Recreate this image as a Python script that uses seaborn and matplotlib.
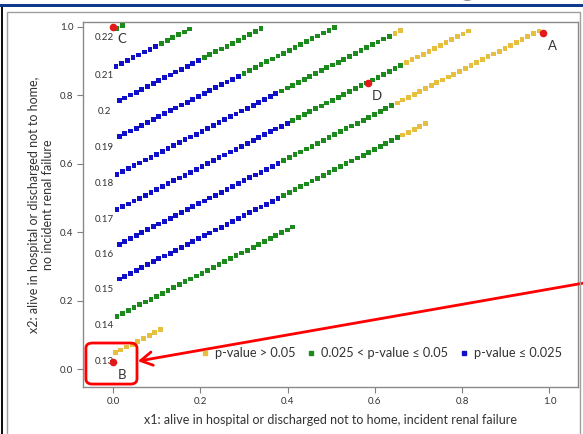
import numpy as np
import pandas as pd
import matplotlib
matplotlib.use("Agg")
import matplotlib.pyplot as plt
import seaborn as sns
from matplotlib.lines import Line2D
from matplotlib.patches import FancyBboxPatch, Rectangle

sns.set_theme(style="ticks")
plt.rcParams["font.family"] = ["Lato", "DejaVu Sans"]

# Contours of constant estimate: x2 = intercept + slope * x1
levels = ["0.13", "0.14", "0.15", "0.16", "0.17", "0.18", "0.19", "0.2", "0.21", "0.22"]
intercepts = [0.044, 0.148, 0.254, 0.356, 0.460, 0.563, 0.670, 0.775, 0.880, 0.990]
slope = 0.648
x1_first = [0.005, 0.009, 0.014, 0.014, 0.009, 0.009, 0.014, 0.014, 0.007, 0.009]
x1_last = [0.108, 0.417, 0.715, 0.975, 0.820, 0.665, 0.505, 0.337, 0.176, 0.023]
x1_step = 0.013
# p-value band limits along each contour (x1 where the band ends)
blue_until = [-1, -1, 0.378, 0.383, 0.405, 0.375, 0.296, 0.206, 0.110, -1]
green_until = [-1, 2, 0.660, 0.650, 0.665, 0.640, 2, 2, 2, 2]

# Highlighted scenarios
case_names = ["A", "B", "C", "D"]
case_x1 = [0.985, 0.0, 0.0, 0.584]
case_x2 = [0.982, 0.020, 1.0, 0.836]

band_labels = ["p-value > 0.05", "0.025 < p-value \u2264 0.05", "p-value \u2264 0.025"]
band_colors = ["#e7bf3f", "#1d8a1d", "#1010c8"]

rows = []
for lev, b0, xa, xb, bu, gu in zip(levels, intercepts, x1_first, x1_last, blue_until, green_until):
    xs = np.arange(xa, xb + x1_step * 0.5, x1_step)
    for x in xs:
        if x <= bu + 1e-9:
            band = band_labels[2]
        elif x <= gu + 1e-9:
            band = band_labels[1]
        else:
            band = band_labels[0]
        rows.append({"x1": x, "x2": b0 + slope * x, "band": band, "level": lev})
df = pd.DataFrame(rows)

W, H = 583, 434
fig = plt.figure(figsize=(W / 100, H / 100), dpi=100)
ax = fig.add_axes([83 / W, 1 - 387 / H, (578 - 83) / W, (387 - 22) / H])

sns.scatterplot(data=df, x="x1", y="x2", hue="band",
                palette=dict(zip(band_labels, band_colors)),
                marker="s", s=12, linewidth=0, legend=False, ax=ax, zorder=3)

ax.scatter(case_x1, case_x2, s=30, color="#e31818", zorder=4, linewidth=0)
for n, cx, cy in zip(case_names, case_x1, case_x2):
    ax.annotate(n, (cx, cy), xytext=(6.5, -9), textcoords="offset points",
                ha="center", va="center", fontsize=9.5, color="#333333")

for lev, b0 in zip(levels, intercepts):
    ax.text(-0.02, b0 - 0.022, lev, ha="center", va="center", fontsize=7, color="#333333")

ax.set_xlim(-0.0687, 1.0653)
ax.set_ylim(-0.0526, 1.0146)
ticks = [0.0, 0.2, 0.4, 0.6, 0.8, 1.0]
ax.set_xticks(ticks)
ax.set_yticks(ticks)
ax.set_xticklabels([f"{t:.1f}" for t in ticks])
ax.set_yticklabels([f"{t:.1f}" for t in ticks])
ax.tick_params(labelsize=7, colors="#333333", length=4, width=0.8, color="#808080", pad=3)
for sp in ax.spines.values():
    sp.set_color("#8a8a8a")
    sp.set_linewidth(1.0)
    sp.set_visible(True)

ax.set_xlabel("x1: alive in hospital or discharged not to home, incident renal failure",
              fontsize=9, color="#333333", labelpad=6)
ax.set_ylabel("x2: alive in hospital or discharged not to home,\nno incident renal failure",
              fontsize=9, color="#333333", labelpad=4)

handles = [Line2D([], [], marker="s", ls="", color=c, markersize=3.2) for c in band_colors]
ax.legend(handles, band_labels, ncol=3, loc="center", bbox_to_anchor=(0.603, 0.093),
          frameon=False, fontsize=9.2, handlelength=0.6, handletextpad=0.5,
          columnspacing=0.9, labelcolor="#333333")

# Red call-out box around B and arrow pointing at it
box = FancyBboxPatch((-0.062, -0.044), 0.117, 0.120, boxstyle="round,pad=0,rounding_size=0.015",
                     fill=False, edgecolor="#ff0000", linewidth=2.0, zorder=5, clip_on=False)
ax.add_patch(box)
ax.annotate("", xy=(0.057, 0.023), xytext=(1.077, 0.251), xycoords="data", textcoords="data",
            arrowprops=dict(arrowstyle="->,head_length=0.7,head_width=0.4", color="#ff0000",
                            lw=2.0, shrinkA=0, shrinkB=0), annotation_clip=False, zorder=5)

# Slide frame around the chart
fig.add_artist(Rectangle((0, 1 - 7 / H), 1, 3 / H, transform=fig.transFigure,
                         color="#123a8c", linewidth=0))
fig.add_artist(Rectangle((0.5 / W, 0), 2.5 / W, 1 - 7 / H, transform=fig.transFigure,
                         color="#111111", linewidth=0))
fig.add_artist(Rectangle((7 / W, -0.05), (580 - 7) / W, 1.05 - 12 / H, transform=fig.transFigure,
                         fill=False, edgecolor="#a0a0a0", linewidth=1.0))
# Tail of the slide heading above the frame
fig.text(468 / W, 1 + 8 / H, "g", fontsize=30, fontweight="bold", ha="center", va="baseline",
         color="#111111")

fig.savefig("out.png", dpi=100)
